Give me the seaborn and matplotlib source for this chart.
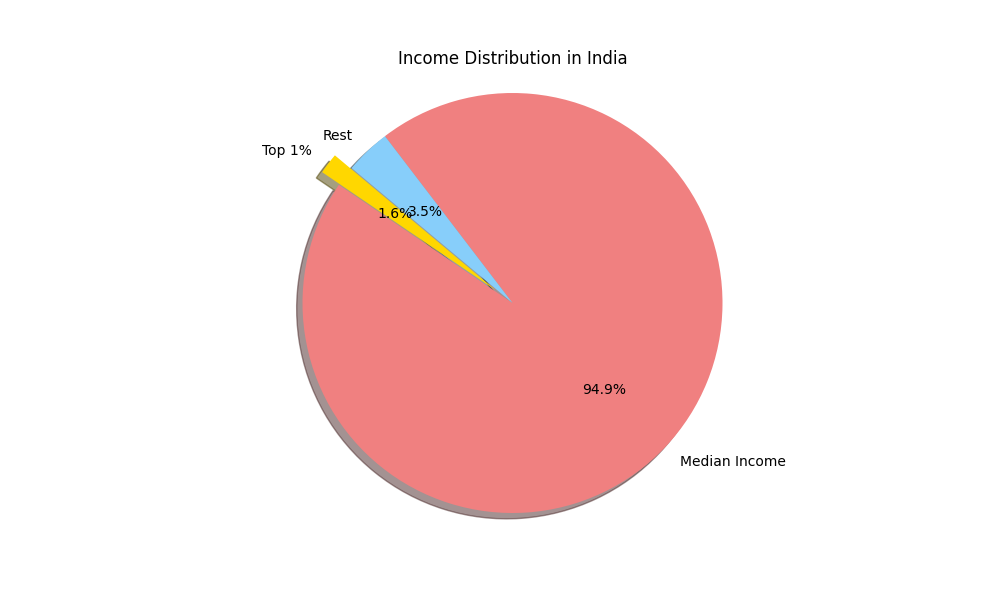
import matplotlib
matplotlib.use("Agg")
import matplotlib.pyplot as plt
import seaborn as sns

# Income share (%) - wedge order counterclockwise from startangle
categories = ["Top 1%", "Median Income", "Rest"]
shares = [1.6, 94.9, 3.5]
explode = [0.1, 0, 0]

colors = sns.color_palette(["gold", "lightcoral", "lightskyblue"])


def main():
    fig, ax = plt.subplots(figsize=(10, 6), dpi=100)
    ax.pie(
        shares,
        labels=categories,
        colors=colors,
        explode=explode,
        autopct="%1.1f%%",
        shadow=True,
        startangle=140,
    )
    ax.axis("equal")
    ax.set_title("Income Distribution in India")
    plt.savefig("out.png", dpi=100)


if __name__ == "__main__":
    main()
